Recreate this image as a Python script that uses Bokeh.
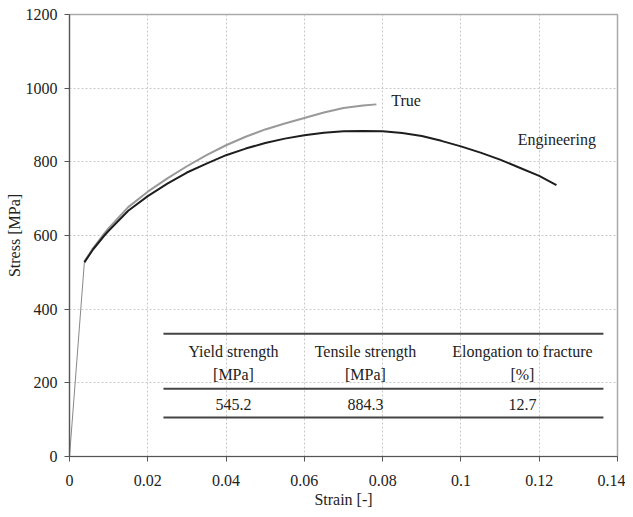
from bokeh.plotting import figure
from bokeh.models import FixedTicker, Range1d
from bokeh.core.properties import value
from bokeh.embed import file_html
from bokeh.resources import INLINE

# ---- data ----
elastic_strain = [0.0, 0.0038]
elastic_stress = [0, 527]

eng_strain = [0.0038, 0.006, 0.0089, 0.01, 0.015, 0.02, 0.025, 0.03, 0.035, 0.04, 0.045, 0.05, 0.055,
              0.06, 0.065, 0.07, 0.075, 0.08, 0.085, 0.09, 0.095, 0.10, 0.105, 0.11, 0.115, 0.12, 0.1244]
eng_stress = [527, 562, 600, 613, 667, 707, 741, 771, 795, 818, 836, 851, 863,
              872, 879, 883, 884, 883, 878, 870, 857, 842, 825, 806, 784, 762, 737]

true_strain = [0.0038, 0.006, 0.0089, 0.01, 0.015, 0.02, 0.025, 0.03, 0.035, 0.04, 0.045, 0.05, 0.055,
               0.06, 0.065, 0.07, 0.075, 0.0784]
true_stress = [529, 565, 606, 620, 677, 719, 755, 788, 818, 845, 868, 888, 904,
               919, 934, 946, 953, 956]

x_ticks = [0, 0.02, 0.04, 0.06, 0.08, 0.10, 0.12, 0.14]
x_tick_labels = ["0", "0.02", "0.04", "0.06", "0.08", "0.1", "0.12", "0.14"]
y_ticks = [0, 200, 400, 600, 800, 1000, 1200]

table_headers_1 = ["Yield strength", "Tensile strength", "Elongation to fracture"]
table_headers_2 = ["[MPa]", "[MPa]", "[%]"]
table_values = ["545.2", "884.3", "12.7"]

FONT = "Liberation Serif"
TXT = "#222222"

p = figure(width=625, height=510, output_backend="svg", toolbar_location=None,
           x_range=Range1d(0, 0.14), y_range=Range1d(0, 1200),
           min_border_left=69, min_border_right=8, min_border_top=14, min_border_bottom=53)

p.outline_line_color = "#aaaaaa"
p.outline_line_width = 1.5

for ax in (p.xaxis[0], p.yaxis[0]):
    ax.axis_line_color = "#555555"
    ax.axis_line_width = 1.2
    ax.major_tick_line_color = "#555555"
    ax.major_tick_out = 5
    ax.major_tick_in = 0
    ax.minor_tick_line_color = None
    ax.major_label_text_font = FONT
    ax.major_label_text_font_size = "16px"
    ax.major_label_text_color = TXT
    ax.axis_label_text_font = FONT
    ax.axis_label_text_font_size = "16px"
    ax.axis_label_text_font_style = "normal"
    ax.axis_label_text_color = TXT

p.xaxis.ticker = FixedTicker(ticks=x_ticks)
p.xaxis.major_label_overrides = {t: l for t, l in zip(x_ticks, x_tick_labels)}
p.yaxis.ticker = FixedTicker(ticks=y_ticks)
p.xaxis.axis_label = "Strain [-]"
p.yaxis.axis_label = "Stress [MPa]"
p.xaxis.major_label_standoff = 13
p.xaxis.axis_label_standoff = 2
p.yaxis.major_label_standoff = 7
p.yaxis.axis_label_standoff = 0

for g in (p.xgrid[0], p.ygrid[0]):
    g.grid_line_color = "#c8c8c8"
    g.grid_line_dash = "2 2"
    g.grid_line_width = 1

# curves
p.line(elastic_strain, elastic_stress, line_color="#888888", line_width=1)
p.line(true_strain, true_stress, line_color="#999999", line_width=2)
p.line(eng_strain, eng_stress, line_color="#1e1e1e", line_width=2)

p.text(x=[0.0822], y=[967], text=["True"], text_font=value(FONT), text_font_size="16px",
       text_color=TXT, text_align="left", text_baseline="middle")
p.text(x=[0.1145], y=[861], text=["Engineering"], text_font=value(FONT), text_font_size="16px",
       text_color=TXT, text_align="left", text_baseline="middle")

# table
col_x = [0.0419, 0.0756, 0.1157]
p.segment(x0=[0.024] * 3, x1=[0.1364] * 3, y0=[333, 184, 106], y1=[333, 184, 106],
          line_color="#444444", line_width=2)
p.text(x=col_x, y=[286] * 3, text=table_headers_1, text_font=value(FONT), text_font_size="16px",
       text_color=TXT, text_align="center", text_baseline="middle")
p.text(x=col_x, y=[223] * 3, text=table_headers_2, text_font=value(FONT), text_font_size="16px",
       text_color=TXT, text_align="center", text_baseline="middle")
p.text(x=col_x, y=[142] * 3, text=table_values, text_font=value(FONT), text_font_size="16px",
       text_color=TXT, text_align="center", text_baseline="middle")

open("out.html", "w").write(file_html(p, INLINE))
